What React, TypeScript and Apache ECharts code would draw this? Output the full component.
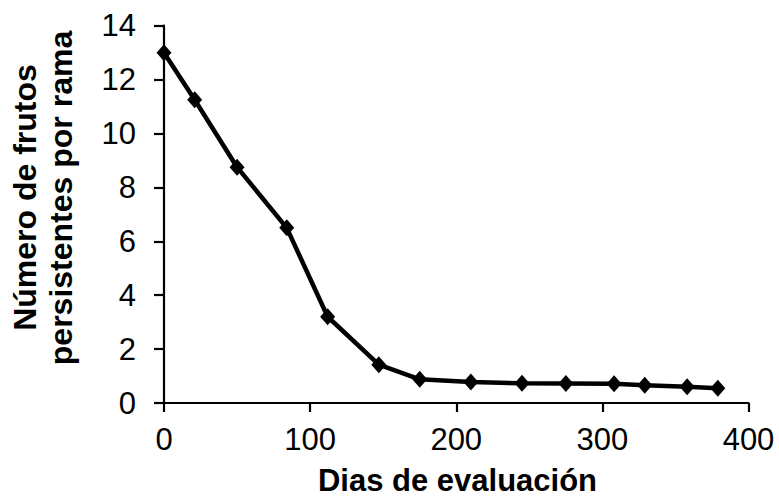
import React, { useEffect, useRef } from "react";
import * as echarts from "echarts";

const days = [0, 21, 50, 84, 112, 147, 175, 210, 245, 275, 308, 329, 358, 379];
const fruits = [13.0, 11.25, 8.75, 6.5, 3.2, 1.42, 0.88, 0.78, 0.73, 0.72, 0.71, 0.66, 0.6, 0.55];
const xTitle = "Dias de evaluación";
const yTitleLines = ["Número de frutos", "persistentes por rama"];

const FONT = "Liberation Sans, Arial, sans-serif";

export default function App() {
  const ref = useRef<HTMLDivElement>(null);
  useEffect(() => {
    document.body.style.margin = "0";
    if (!ref.current) return;
    const chart = echarts.init(ref.current, undefined, { renderer: "svg" });
    chart.setOption({
      animation: false,
      backgroundColor: "#ffffff",
      grid: { left: 164, right: 30.5, top: 25.7, bottom: 95, containLabel: false },
      xAxis: {
        type: "value",
        min: 0,
        max: 400,
        interval: 100,
        axisLine: { show: true, lineStyle: { color: "#000", width: 2.2 } },
        axisTick: { show: true, inside: false, length: 9, lineStyle: { color: "#000", width: 2.2 } },
        axisLabel: { color: "#000", fontSize: 31, fontFamily: FONT, margin: 21 },
        splitLine: { show: false },
      },
      yAxis: {
        type: "value",
        min: 0,
        max: 14,
        interval: 2,
        axisLine: { show: true, lineStyle: { color: "#000", width: 2.2 } },
        axisTick: { show: true, inside: false, length: 10, lineStyle: { color: "#000", width: 2.2 } },
        axisLabel: { color: "#000", fontSize: 31, fontFamily: FONT, margin: 28 },
        splitLine: { show: false },
      },
      graphic: [
        {
          type: "text",
          x: 457.5,
          y: 480.5,
          style: {
            text: xTitle,
            fill: "#000",
            font: `bold 31px ${FONT}`,
            textAlign: "center",
            textVerticalAlign: "middle",
          },
        },
        {
          type: "text",
          x: 24.5,
          y: 197.5,
          rotation: Math.PI / 2,
          style: {
            text: yTitleLines[0],
            fill: "#000",
            font: `bold 32px ${FONT}`,
            textAlign: "center",
            textVerticalAlign: "middle",
          },
        },
        {
          type: "text",
          x: 60.7,
          y: 198,
          rotation: Math.PI / 2,
          style: {
            text: yTitleLines[1],
            fill: "#000",
            font: `bold 32px ${FONT}`,
            textAlign: "center",
            textVerticalAlign: "middle",
          },
        },
      ],
      series: [
        {
          type: "line",
          data: days.map((d, i) => [d, fruits[i]]),
          symbol: "diamond",
          symbolSize: [15, 17],
          lineStyle: { color: "#000", width: 4.5 },
          itemStyle: { color: "#000" },
          clip: false,
        },
      ],
    });
    return () => chart.dispose();
  }, []);
  return <div ref={ref} style={{ width: 779, height: 498 }} />;
}
